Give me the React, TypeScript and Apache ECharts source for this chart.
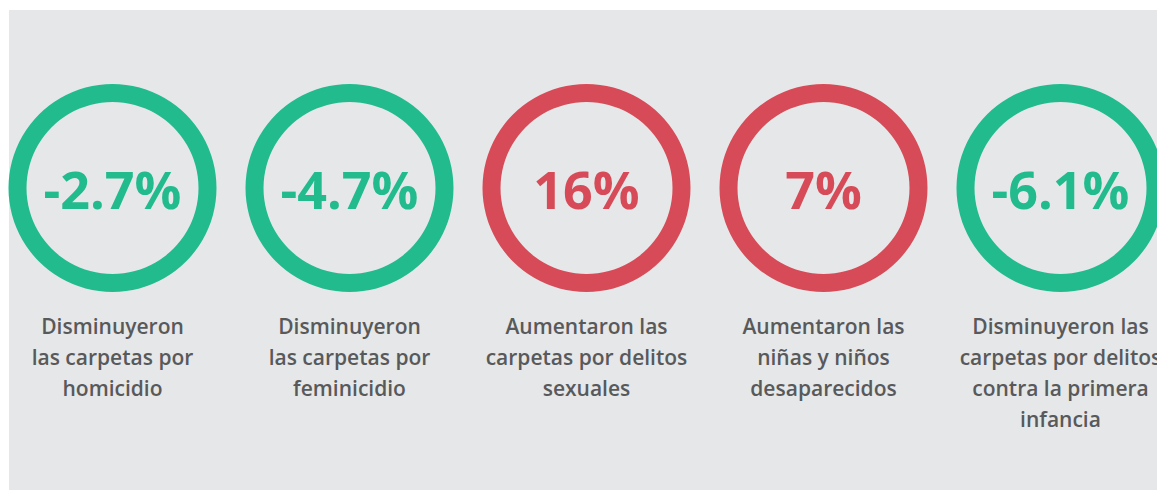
import React, { useEffect, useRef } from "react";
import * as echarts from "echarts";

const values = ["-2.7%", "-4.7%", "16%", "7%", "-6.1%"];
const trend = ["down", "down", "up", "up", "down"];
const descriptions = [
  "Disminuyeron\nlas carpetas por\nhomicidio",
  "Disminuyeron\nlas carpetas por\nfeminicidio",
  "Aumentaron las\ncarpetas por delitos\nsexuales",
  "Aumentaron las\nniñas y niños\ndesaparecidos",
  "Disminuyeron las\ncarpetas por delitos\ncontra la primera\ninfancia",
];

const GREEN = "#21bb8e";
const RED = "#d64b57";
const GRAY_TEXT = "#58595b";

export default function App() {
  const ref = useRef<HTMLDivElement>(null);
  useEffect(() => {
    if (!ref.current) return;
    const chart = echarts.init(ref.current, undefined, { renderer: "svg" });
    const cx0 = 112.5;
    const step = 237;
    const cy = 188;
    const series = values.map((v, i) => ({
      type: "pie",
      silent: true,
      center: [cx0 + step * i, cy],
      radius: [86, 104],
      label: {
        show: true,
        position: "center",
        formatter: v,
        fontFamily: "Open Sans",
        fontWeight: 700,
        fontSize: 52,
        color: trend[i] === "down" ? GREEN : RED,
      },
      labelLine: { show: false },
      itemStyle: { color: trend[i] === "down" ? GREEN : RED },
      data: [{ value: 1, name: v }],
    }));
    const texts = descriptions.map((d, i) => ({
      type: "text",
      x: cx0 + step * i,
      y: 310,
      z: 10,
      style: {
        text: d,
        align: "center",
        verticalAlign: "top",
        fontFamily: "Open Sans",
        fontWeight: 600,
        fontSize: 21,
        lineHeight: 31,
        fill: GRAY_TEXT,
      },
    }));
    chart.setOption({
      animation: false,
      backgroundColor: "#ffffff",
      graphic: [
        {
          type: "rect",
          z: -10,
          shape: { x: 9, y: 10, width: 1300, height: 480 },
          style: { fill: "#e6e7e8" },
        },
        ...texts,
      ],
      series,
    });
    return () => chart.dispose();
  }, []);
  return (
    <div
      ref={ref}
      style={{ position: "fixed", left: 0, top: 0, width: 1157, height: 491 }}
    />
  );
}
